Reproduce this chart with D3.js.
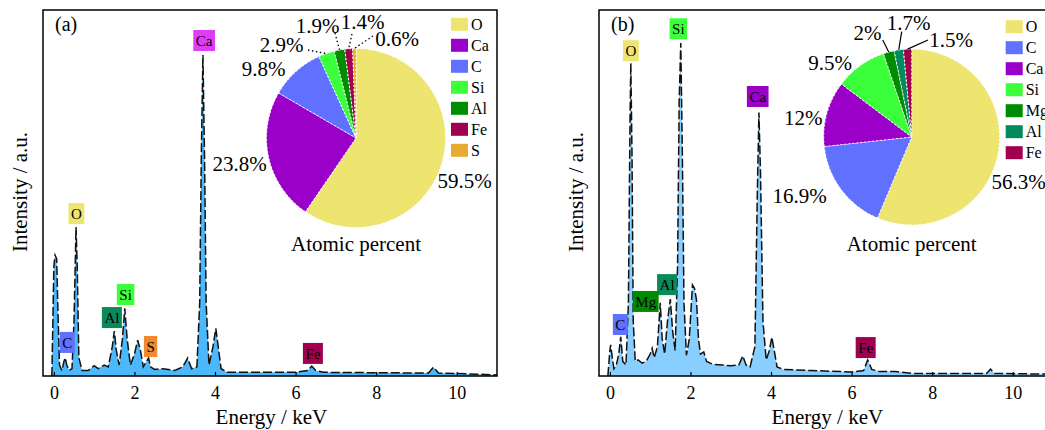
<!DOCTYPE html>
<html lang="en">
<head>
<meta charset="UTF-8">
<title>EDS spectra with atomic percent</title>
<script src="https://d3js.org/d3.v7.min.js"></script>
<style>
  body { margin: 0; background: #fff; }
</style>
</head>
<body>
<div id="chart"></div>
<script>
// ---- data ----
const xTicks = [0, 2, 4, 6, 8, 10];

// panel (a) spectrum
const energyA = [-0.05, 0, 0.03, 0.07, 0.1, 0.14, 0.2, 0.25, 0.28, 0.32, 0.38, 0.45, 0.5, 0.55, 0.58, 0.62, 0.7, 0.85,
  1.0, 1.1, 1.25, 1.35, 1.45, 1.5, 1.55, 1.62, 1.7, 1.76, 1.82, 1.9, 2.0, 2.08, 2.15, 2.22, 2.3, 2.35, 2.4, 2.5, 2.7,
  3.0, 3.2, 3.32, 3.42, 3.55, 3.62, 3.66, 3.7, 3.74, 3.78, 3.85, 3.95, 4.02, 4.08, 4.15, 4.3, 5.0, 6.0, 6.3, 6.4, 6.5,
  6.7, 8.0, 9.3, 9.42, 9.55, 10.5, 11];
const intensityA = [0, 30, 33, 32, 18, 3, 1.5, 4, 5, 3, 1.5, 2, 15, 40.7, 30, 5, 1.5, 1.5,
  2.8, 2, 3, 2.5, 8, 12.3, 7, 3, 10, 18.5, 10, 3, 6, 9.8, 7, 2.5, 4, 4.9, 2.5, 1.8, 2,
  1.5, 2.5, 4.9, 2, 2.5, 20, 60, 87.7, 60, 20, 3, 8, 13, 8, 2, 1, 1, 1, 1.5, 2.7, 1.5,
  1, 0.9, 0.8, 2.4, 0.8, 0.5, 0.3];

// panel (b) spectrum
const energyB = [-0.05, 0, 0.02, 0.06, 0.1, 0.16, 0.22, 0.27, 0.32, 0.4, 0.46, 0.5, 0.52, 0.55, 0.58, 0.63, 0.7, 0.8, 0.9,
  1.0, 1.05, 1.1, 1.18, 1.25, 1.3, 1.36, 1.43, 1.5, 1.56, 1.62, 1.68, 1.72, 1.76, 1.8, 1.84, 1.9, 1.97, 2.05, 2.1, 2.15,
  2.2, 2.25, 2.33, 2.4, 2.55, 2.8, 3.0, 3.2, 3.3, 3.38, 3.48, 3.6, 3.66, 3.7, 3.74, 3.8, 3.88, 3.96, 4.02, 4.08, 4.15,
  4.3, 5.0, 6.0, 6.3, 6.4, 6.5, 6.7, 7.1, 7.5, 9.35, 9.45, 9.55, 11];
const intensityB = [0, 7, 8.5, 5, 2, 3, 6, 10.7, 4, 3, 20, 70, 85.5, 60, 15, 4, 4.4, 3.5, 4,
  6, 7.6, 5, 8, 20, 10, 6, 15, 21, 12, 7, 30, 75, 91, 60, 20, 5.7, 10, 24.9, 24, 20.8,
  10, 6, 6.6, 4, 3.2, 3, 2.8, 3, 5.5, 3, 2.5, 8, 50, 72, 55, 15, 4.4, 7, 10.6, 7, 2.5,
  1.8, 1.5, 1.1, 1.5, 4.4, 1.8, 1.2, 1.2, 0.7, 0.7, 1.9, 0.7, 0.5];

// peak tags: element, energy, intensity of the tag's lower edge
const peakNamesA = ["Ca", "O", "Si", "Al", "C", "S", "Fe"];
const peakEnergyA = [3.73, 0.56, 1.78, 1.44, 0.33, 2.40, 6.43];
const peakLevelA = [88.8, 41.5, 19.4, 13.1, 6.3, 5.2, 3.3];

const peakNamesB = ["Si", "O", "Ca", "Al", "Mg", "C", "Fe"];
const peakEnergyB = [1.70, 0.52, 3.67, 1.42, 0.89, 0.26, 6.35];
const peakLevelB = [92, 86, 73.5, 22.1, 17.5, 11.2, 4.9];

// atomic percent
const pieNamesA = ["O", "Ca", "C", "Si", "Al", "Fe", "S"];
const pieValuesA = [59.5, 23.8, 9.8, 2.9, 1.9, 1.4, 0.6];
const pieNamesB = ["O", "C", "Ca", "Si", "Mg", "Al", "Fe"];
const pieValuesB = [56.3, 16.9, 12, 9.5, 2, 1.7, 1.5];

// ---- colours ----
const pieColorA = {O: "#ede56f", Ca: "#9b00c8", C: "#6070ff", Si: "#3cff3c", Al: "#008c00", Fe: "#a0004f", S: "#e8aa30"};
const pieColorB = {O: "#ede56f", C: "#6070ff", Ca: "#9b00c8", Si: "#3cff3c", Mg: "#008c00", Al: "#008a5e", Fe: "#a0004f"};
const tagColorA = {Ca: "#e03cf8", O: "#ede56f", Si: "#3cff3c", Al: "#0a8a5a", C: "#6070ff", S: "#f08a30", Fe: "#a0004f"};
const tagColorB = {Si: "#3cff3c", O: "#ede56f", Ca: "#9b00c8", Al: "#0a8a5a", Mg: "#008c00", C: "#6070ff", Fe: "#a0004f"};

// ---- layout ----
const W = 1045, H = 430;
const plotTop = 10, plotBottom = 376, plotW = 454;

const svg = d3.select("#chart").append("svg")
  .attr("width", W).attr("height", H)
  .attr("font-family", "'Liberation Serif', 'Times New Roman', serif");

function drawPanel(p) {
  const g = svg.append("g");
  const x = d3.scaleLinear().domain([-0.27, 11]).range([p.x0, p.x0 + plotW]);
  const y = d3.scaleLinear().domain([0, 100]).range([plotBottom, plotTop]);

  const clipId = "clip" + p.id;
  g.append("clipPath").attr("id", clipId)
    .append("rect").attr("x", p.x0).attr("y", plotTop).attr("width", plotW).attr("height", plotBottom - plotTop);

  const pts = p.energy.map((e, i) => [e, p.intensity[i]]);

  // spectrum fill + dashed outline
  g.append("path").datum(pts)
    .attr("clip-path", `url(#${clipId})`)
    .attr("fill", p.fill)
    .attr("d", d3.area().x(d => x(d[0])).y0(plotBottom).y1(d => y(d[1])));
  g.append("path").datum(pts)
    .attr("clip-path", `url(#${clipId})`)
    .attr("fill", "none").attr("stroke", "#111").attr("stroke-width", 1.5)
    .attr("stroke-dasharray", "9,3")
    .attr("d", d3.line().x(d => x(d[0])).y(d => y(d[1])));

  // frame
  g.append("rect").attr("x", p.x0).attr("y", plotTop).attr("width", plotW).attr("height", plotBottom - plotTop)
    .attr("fill", "none").attr("stroke", "#000").attr("stroke-width", 1.5);

  // x axis with inward ticks
  const ax = g.append("g").attr("transform", `translate(0,${plotBottom})`)
    .call(d3.axisBottom(x).tickValues(xTicks).tickSizeInner(-4).tickSizeOuter(0).tickPadding(10));
  ax.select(".domain").remove();
  ax.selectAll("line").attr("stroke", "#000").attr("stroke-width", 1.2);
  ax.selectAll("text").attr("font-size", 18).attr("fill", "#000")
    .attr("font-family", "'Liberation Serif', serif");

  g.append("text").attr("x", x(5.4)).attr("y", 424)
    .attr("text-anchor", "middle").attr("font-size", 21).text("Energy / keV");
  g.append("text")
    .attr("transform", `translate(${p.x0 - 16},192) rotate(-90)`)
    .attr("text-anchor", "middle").attr("font-size", 21).text("Intensity / a.u.");
  g.append("text").attr("x", p.x0 + 12).attr("y", 31).attr("font-size", 20).text(p.tag);

  // peak tags
  p.peakNames.forEach((n, i) => {
    const cx = x(p.peakEnergy[i]), by = y(p.peakLevel[i]);
    const t = g.append("text").attr("x", cx).attr("y", by - 5)
      .attr("text-anchor", "middle").attr("font-size", 15).text(n);
    const w = t.node().getComputedTextLength() + 5;
    g.insert("rect", () => t.node())
      .attr("x", cx - w / 2).attr("y", by - 21).attr("width", w).attr("height", 21)
      .attr("fill", p.tagColor[n]);
  });

  // pie
  const pie = d3.pie().sort(null).value(d => d.v);
  const arcs = pie(p.pieNames.map((n, i) => ({n, v: p.pieValues[i]})));
  const arc = d3.arc().innerRadius(0).outerRadius(p.r);
  const pg = g.append("g").attr("transform", `translate(${p.cx},${p.cy})`);
  pg.selectAll("path.slice").data(arcs).join("path")
    .attr("class", "slice")
    .attr("d", arc).attr("fill", d => p.pieColor[d.data.n])
    .attr("stroke", "#fff").attr("stroke-width", 1).attr("stroke-dasharray", "2,2");

  arcs.forEach((d, i) => {
    const lp = p.labelPos[i];
    g.append("text").attr("x", lp[0]).attr("y", lp[1]).attr("dy", "0.35em")
      .attr("text-anchor", "middle").attr("font-size", 21).text(`${d.data.v}%`);
    if (lp.length > 2) {
      const a = (d.startAngle + d.endAngle) / 2;
      g.append("line")
        .attr("x1", lp[2]).attr("y1", lp[3])
        .attr("x2", p.cx + p.r * Math.sin(a)).attr("y2", p.cy - p.r * Math.cos(a))
        .attr("stroke", "#000").attr("stroke-width", p.leaderDash ? 1.3 : 1.2)
        .attr("stroke-dasharray", p.leaderDash ? "1.5,2.5" : null);
    }
  });

  g.append("text").attr("x", p.cx).attr("y", 251)
    .attr("text-anchor", "middle").attr("font-size", 21).text("Atomic percent");

  // legend
  p.pieNames.forEach((n, i) => {
    const cy = p.legY + 21 * i;
    g.append("rect").attr("x", p.legX).attr("y", cy - 6.5).attr("width", 17).attr("height", 13)
      .attr("fill", p.pieColor[n]);
    g.append("text").attr("x", p.legX + 20).attr("y", cy).attr("dy", "0.35em")
      .attr("font-size", 16).text(n);
  });
}

drawPanel({
  id: "a", tag: "(a)", x0: 43, fill: "#4cb8fc",
  energy: energyA, intensity: intensityA,
  peakNames: peakNamesA, peakEnergy: peakEnergyA, peakLevel: peakLevelA, tagColor: tagColorA,
  pieNames: pieNamesA, pieValues: pieValuesA, pieColor: pieColorA,
  cx: 356, cy: 138, r: 89.5, leaderDash: true,
  labelPos: [[464.5, 181], [239.5, 164], [263.5, 69], [281.7, 45, 308, 50], [317.5, 26, 335, 33],
             [362.5, 22, 352, 34], [397, 38.5, 373, 36]],
  legX: 451, legY: 24.3
});

drawPanel({
  id: "b", tag: "(b)", x0: 599, fill: "#88ceff",
  energy: energyB, intensity: intensityB,
  peakNames: peakNamesB, peakEnergy: peakEnergyB, peakLevel: peakLevelB, tagColor: tagColorB,
  pieNames: pieNamesB, pieValues: pieValuesB, pieColor: pieColorB,
  cx: 911.7, cy: 137, r: 88, leaderDash: false,
  labelPos: [[1018.7, 182], [799.7, 195.5], [803.3, 118], [830, 62.5], [867.5, 32.5, 882.7, 40],
             [908.7, 23, 901.7, 31.7], [951, 39.5, 928, 40]],
  legX: 1005.7, legY: 26.7
});
</script>
</body>
</html>
